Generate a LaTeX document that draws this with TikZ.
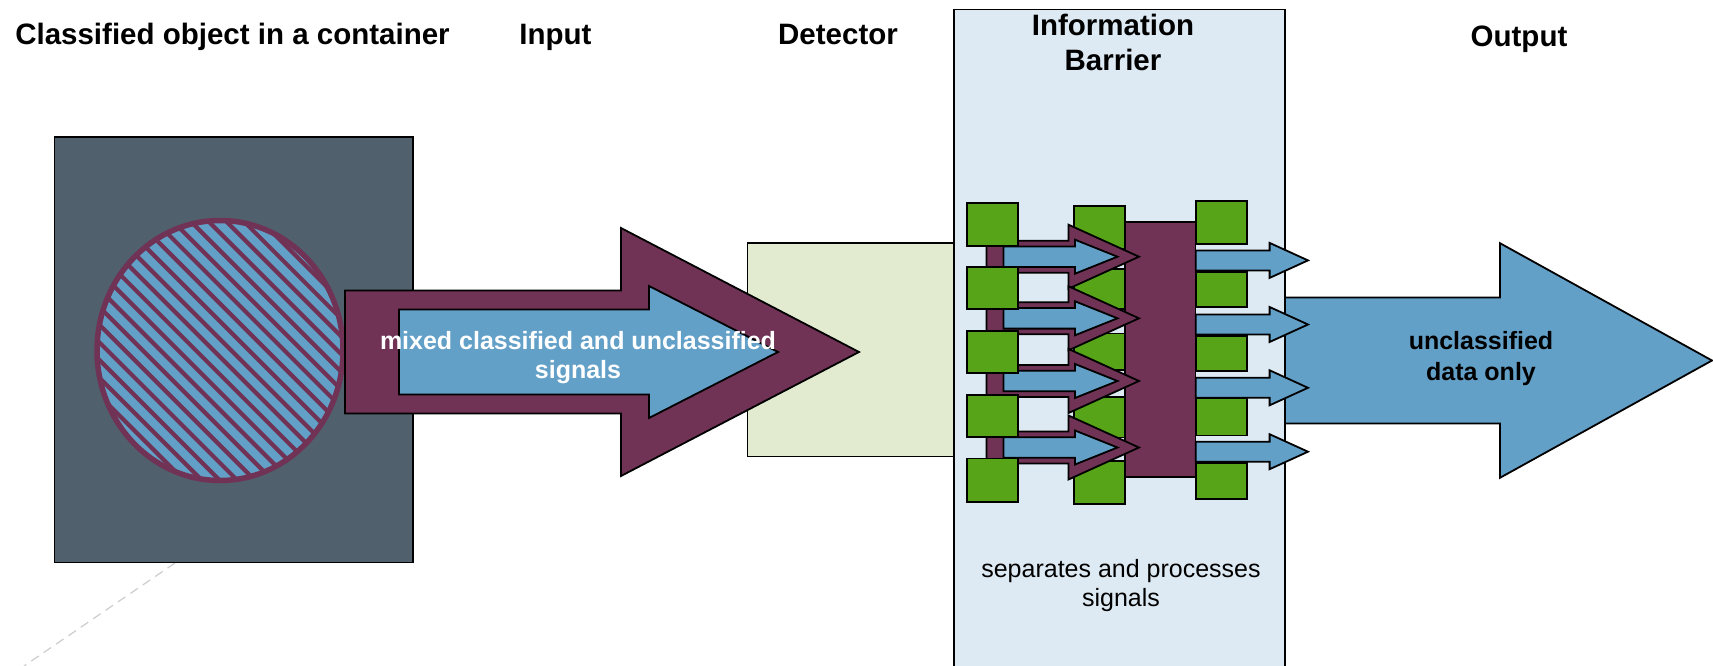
\documentclass[tikz,border=0pt]{standalone}
\usepackage{fontspec}
\setmainfont{Liberation Sans}
\definecolor{slate}{RGB}{80,96,108}
\definecolor{plum}{RGB}{112,51,86}
\definecolor{sky}{RGB}{99,160,200}
\definecolor{leaf}{RGB}{87,164,24}
\definecolor{detfill}{RGB}{226,235,208}
\definecolor{barfill}{RGB}{222,234,243}
\definecolor{dashgray}{RGB}{205,205,205}
\newcommand{\blkarrow}[7]{%
  \path[#1] (#2,{#5-#6}) -- (#3,{#5-#6}) -- (#3,{#5-#7}) -- (#4,#5)
    -- (#3,{#5+#7}) -- (#3,{#5+#6}) -- (#2,{#5+#6}) -- cycle;}
\tikzset{
  outl/.style={draw=black, line width=1.8pt, line join=miter},
  plumarrow/.style={outl, fill=plum},
  skyarrow/.style={outl, fill=sky},
  greenbox/.style={outl, fill=leaf},
  titletext/.style={font=\fontsize{29.5}{35}\selectfont\bfseries, anchor=base, inner sep=0pt},
  bodybold/.style={font=\fontsize{25}{30}\selectfont\bfseries, anchor=base, inner sep=0pt},
  bodytext/.style={font=\fontsize{25}{30}\selectfont, anchor=base, inner sep=0pt},
}
\begin{document}
\begin{tikzpicture}[x=1pt,y=-1pt]
\useasboundingbox (0,0) rectangle (1713,666);
\fill[white] (0,0) rectangle (1713,666);
% dashed leader line
\coordinate (dsA) at (175,563);
\coordinate (dsB) at (24,666);
\draw[dashgray, line width=1.2pt, dash pattern=on 9pt off 6pt] (dsA) -- (dsB);
% container
\path[outl, fill=slate] (54.5,136.7) rectangle (413,562.5);
% classified object
\begin{scope}
  \clip (220,350.5) ellipse [x radius=123, y radius=130];
  \fill[sky] (220,350.5) ellipse [x radius=123, y radius=130];
  \foreach \c in {-420,-402.3,...,160} {
    \draw[plum, line width=4.2pt] ({\c+150},150) -- ({\c+550},550);
  }
\end{scope}
\draw[plum, line width=5.5pt] (220,350.5) ellipse [x radius=123, y radius=130];
% detector
\path[outl, fill=detfill] (747.5,243) rectangle (954,456.5);
% input arrow
\blkarrow{plumarrow}{345}{621}{859}{352}{61.5}{124}
\blkarrow{skyarrow}{399}{649}{778}{352}{42.5}{66}
% information barrier
\path[outl, fill=barfill] (954,9.5) rectangle (1285,680);
% output arrow
\blkarrow{skyarrow}{1285}{1500}{1712}{360.5}{63}{117.3}
% processing block
\path[outl, fill=plum] (1125,222.3) rectangle (1195.5,477.3);
% column 2 squares
\foreach \ya/\yb in {205.7/248.5, 269/309, 333.5/369.6, 397/437.5, 461/504} {
  \path[greenbox] (1074.3,\ya) rectangle (1125,\yb);
}
% vertical bar
\path[outl, fill=plum] (986.5,232) rectangle (1003.5,470);
% separation arrows
\foreach \yc in {256.7, 318.3, 381, 447.5} {
  \blkarrow{plumarrow}{986.5}{1068.5}{1139}{\yc}{16}{32}
  \blkarrow{skyarrow}{1003.5}{1075}{1117.5}{\yc}{10.3}{17}
}
% column 1 squares
\foreach \ya/\yb in {202.7/245.7, 267.3/309, 331/372.7, 395/437.3, 458.5/501.7} {
  \path[greenbox] (967.3,\ya) rectangle (1017.7,\yb);
}
% column 3 squares
\foreach \ya/\yb in {201/244, 272/307, 335.6/371, 398.5/435.4, 463/499.3} {
  \path[greenbox] (1195.7,\ya) rectangle (1246.6,\yb);
}
% small output arrows
\foreach \yc in {260.4, 324.5, 387.8, 451.7} {
  \blkarrow{skyarrow}{1195.7}{1269.6}{1308}{\yc}{10}{17.5}
}
% texts
\node[titletext] (tcont) at (232.5,45) {Classified object in a container};
\node[titletext] (tin) at (555.5,45) {Input};
\node[titletext] (tdet) at (838,45) {Detector};
\node[titletext] (tinf1) at (1113,35.5) {Information};
\node[titletext] (tinf2) at (1113,71) {Barrier};
\node[titletext] (tout) at (1519,46.5) {Output};
\node[bodybold, text=white] (mix1) at (578,349.3) {mixed classified and unclassified};
\node[bodybold, text=white] (mix2) at (578,378.3) {signals};
\node[bodybold] (unc1) at (1481,349) {unclassified};
\node[bodybold] (unc2) at (1481,380) {data only};
\node[bodytext] (sep1) at (1121,577) {separates and processes};
\node[bodytext] (sep2) at (1121,606) {signals};
\end{tikzpicture}
\end{document}
